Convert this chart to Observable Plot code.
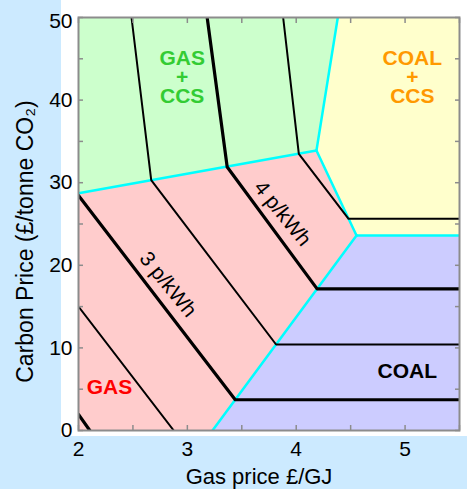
<!DOCTYPE html>
<html><head><meta charset="utf-8">
<script src="https://cdn.jsdelivr.net/npm/d3@7"></script>
<script src="https://cdn.jsdelivr.net/npm/@observablehq/plot@0.6"></script>
<style>
body{margin:0;background:#cceaff;}
#wrap{position:relative;width:467px;height:489px;background:#cceaff;overflow:hidden;}
#panel{position:absolute;left:61px;top:0;width:406px;height:436px;background:#fff;}
#chart{position:absolute;left:0;top:0;}
</style></head><body>
<div id="wrap"><div id="panel"></div><div id="chart"></div></div>
<script>
// ---- data (gas price £/GJ, carbon price £/tCO2) ----
const gasTicks = [2, 3, 4, 5];
const carbonTicks = [0, 10, 20, 30, 40];
const carbonTopTick = [50];
const gasMinorTicks = [2, 2.5, 3, 3.5, 4, 4.5, 5, 5.5];
const carbonMinorTicks = [0, 5, 10, 15, 20, 25, 30, 35, 40, 45, 50];

// region polygons
const gasRegion     = [[2,0],[3.231,0],[4.554,23.6],[4.186,33.9],[2,28.73]];
const gasCcsRegion  = [[2,28.73],[4.186,33.9],[4.382,50],[2,50]];
const coalCcsRegion = [[4.382,50],[4.186,33.9],[4.554,23.6],[5.5,23.6],[5.5,50]];
const coalRegion    = [[3.231,0],[5.5,0],[5.5,23.6],[4.554,23.6]];

// region boundaries (cyan)
const boundaryGasGasCcs   = [[2,28.73],[4.186,33.9]];
const boundaryGasCcsCoalCcs = [[4.186,33.9],[4.382,50]];
const boundaryGasCoalCcs  = [[4.186,33.9],[4.554,23.6]];
const boundaryCoalCoalCcs = [[4.554,23.6],[5.5,23.6]];
const boundaryGasCoal     = [[3.231,0],[4.554,23.6]];

// cost contours, p/kWh
const contourLevels = [2, 2.5, 3, 3.5, 4, 4.5];
const contour20 = [[2,1.94],[2.104,0]];
const contour25 = [[2,15.0],[2.875,0]];
const contour30 = [[2,28.45],[3.44,3.72],[5.5,3.72]];
const contour35 = [[2.487,50],[2.668,30.3],[3.815,10.41],[5.5,10.41]];
const contour40 = [[3.182,50],[3.366,31.9],[4.192,17.15],[5.5,17.15]];
const contour45 = [[3.880,50],[4.024,33.5],[4.481,25.63],[5.5,25.63]];

// labels
const regionNames = ["GAS", "GAS\n+\nCCS", "COAL\n+\nCCS", "COAL"];
const contourLabels = ["3 p/kWh", "4 p/kWh"];

// ---- build tables ----
const regionColors = ["#ffcccc", "#ccffcc", "#ffffcc", "#ccccff"];
const regions = [gasRegion, gasCcsRegion, coalCcsRegion, coalRegion];
const boundaries = [boundaryGasGasCcs, boundaryGasCcsCoalCcs, boundaryGasCoalCcs, boundaryCoalCoalCcs, boundaryGasCoal]
  .flatMap((b, i) => b.map(([gas, carbon]) => ({id: i, gas, carbon})));
const contours = [contour20, contour25, contour30, contour35, contour40, contour45]
  .flatMap((c, i) => c.map(([gas, carbon]) => ({level: contourLevels[i], gas, carbon})));
const thick = contours.filter(d => Number.isInteger(d.level));
const thin = contours.filter(d => !Number.isInteger(d.level));

const regionLabelAnn = [
  {text: regionNames[0], gas: 2.285, carbon: 5.2, color: "#ff0000"},
  {text: regionNames[1], gas: 2.952, carbon: 42.7, color: "#33cc33"},
  {text: regionNames[2], gas: 5.067, carbon: 42.7, color: "#ff9900"},
  {text: regionNames[3], gas: 5.021, carbon: 7.14, color: "#000000"}
];
const contourLabelAnn = [
  {text: contourLabels[0], gas: 2.822, carbon: 17.68},
  {text: contourLabels[1], gas: 3.874, carbon: 26.27}
];

const font = "'Liberation Sans', Arial, Helvetica, sans-serif";
const tickColor = "#8c8c8c";

const chart = Plot.plot({
  width: 467, height: 489,
  marginLeft: 78, marginRight: 8, marginTop: 17, marginBottom: 59,
  style: {background: "transparent", fontFamily: font, color: "#000"},
  x: {domain: [2, 5.5]},
  y: {domain: [0, 50]},
  marks: [
    ...regions.map((r, i) => Plot.line(r, {x: d => d[0], y: d => d[1], fill: regionColors[i], stroke: "none"})),
    Plot.line(boundaries, {x: "gas", y: "carbon", z: "id", stroke: "#00ffff", strokeWidth: 2.5, clip: true}),
    Plot.line(thin, {x: "gas", y: "carbon", z: "level", stroke: "#000", strokeWidth: 2, clip: true}),
    Plot.line(thick, {x: "gas", y: "carbon", z: "level", stroke: "#000", strokeWidth: 3.2, clip: true}),
    Plot.axisX({anchor: "bottom", ticks: gasMinorTicks, tickSize: -5, fill: "none", stroke: tickColor, strokeWidth: 1.5, label: null}),
    Plot.axisX({anchor: "top", ticks: gasMinorTicks, tickSize: -5, fill: "none", stroke: tickColor, strokeWidth: 1.5, label: null}),
    Plot.axisY({anchor: "left", ticks: carbonMinorTicks, tickSize: -5, fill: "none", stroke: tickColor, strokeWidth: 1.5, label: null}),
    Plot.axisY({anchor: "right", ticks: carbonMinorTicks, tickSize: -5, fill: "none", stroke: tickColor, strokeWidth: 1.5, label: null}),
    Plot.axisX({anchor: "bottom", ticks: gasTicks, tickSize: 0, tickPadding: 11, fontSize: 21, tickFormat: d => String(d), label: null}),
    Plot.axisY({anchor: "left", ticks: carbonTicks, tickSize: 0, tickPadding: 6, fontSize: 21, tickFormat: d => String(d), label: null}),
    Plot.axisY({anchor: "left", ticks: carbonTopTick, tickSize: 0, tickPadding: 6, dy: 4, fontSize: 21, tickFormat: d => String(d), label: null}),
    Plot.frame({stroke: tickColor, strokeWidth: 2}),
    Plot.text(regionLabelAnn, {x: "gas", y: "carbon", text: "text", fill: "color", fontSize: 21, fontWeight: "bold", lineHeight: 0.92}),
    Plot.text(contourLabelAnn, {x: "gas", y: "carbon", text: "text", fill: "#000", fontSize: 21, rotate: 51}),
    Plot.text(["Gas price £/GJ"], {frameAnchor: "bottom", textAnchor: "middle", lineAnchor: "middle", dy: 46, dx: -10, fontSize: 22, fill: "#000"}),
    Plot.text(["Carbon Price (£/tonne CO₂)"], {frameAnchor: "left", textAnchor: "middle", lineAnchor: "middle", rotate: -90, dx: -53, dy: 17.5, fontSize: 23, fill: "#000"})
  ]
});
document.getElementById("chart").appendChild(chart);
</script>
</body></html>
